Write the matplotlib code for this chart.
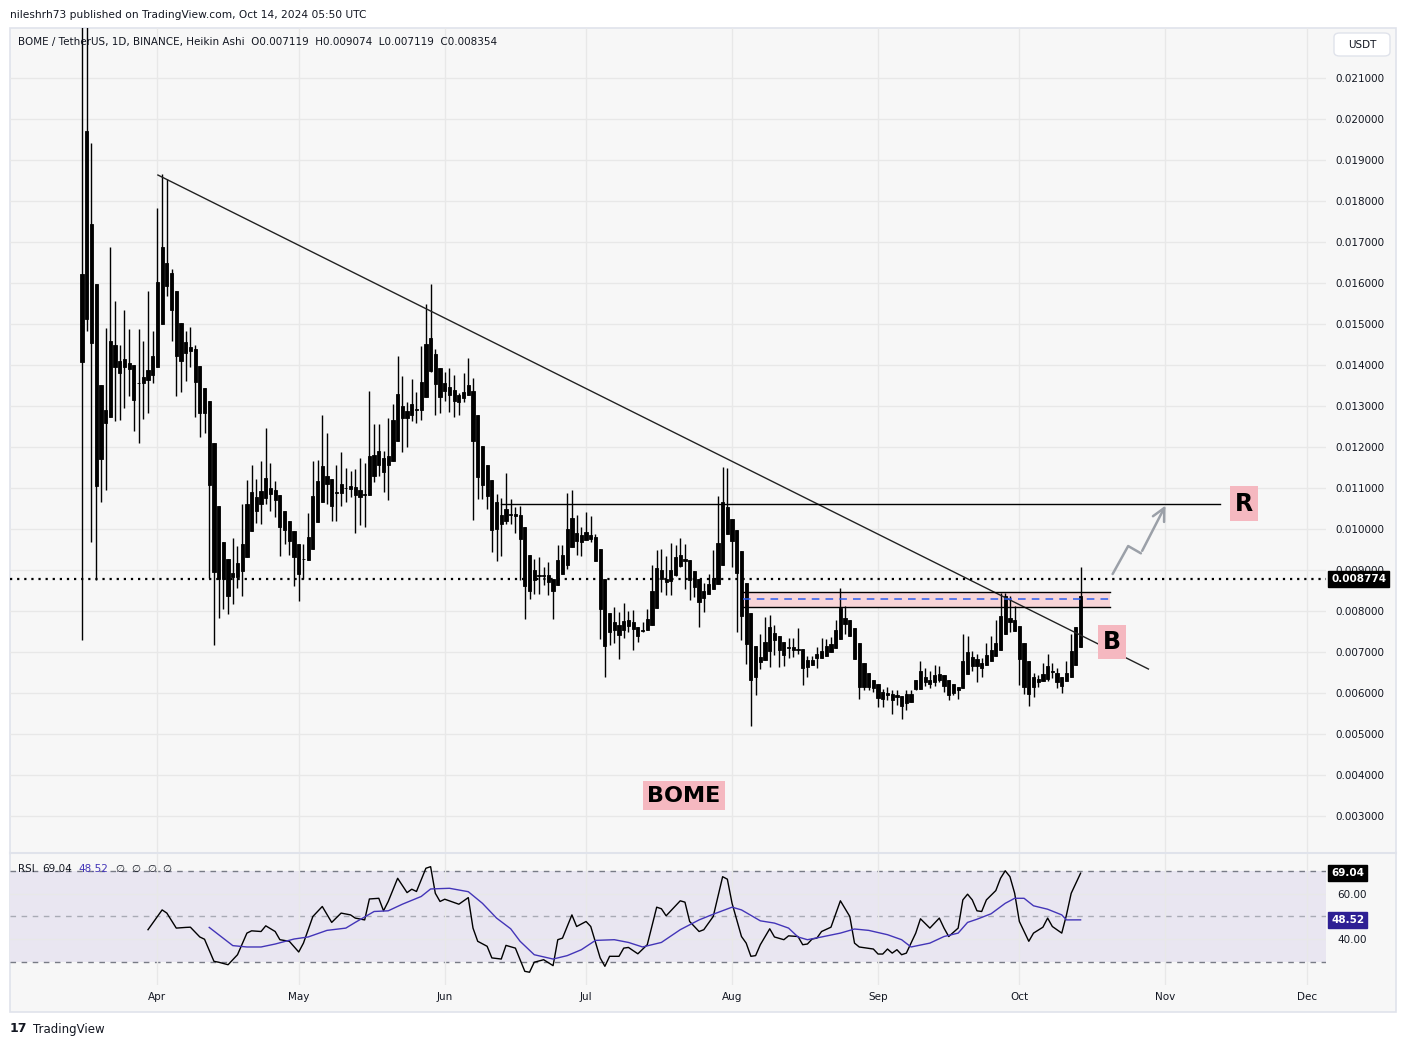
import matplotlib
matplotlib.use('Agg')
import matplotlib.pyplot as plt
import matplotlib.dates as mdates
import matplotlib.transforms as mtransforms
from matplotlib.patches import Rectangle, FancyBboxPatch
from matplotlib.lines import Line2D
import numpy as np
import pandas as pd

plt.rcParams['font.family'] = ['DejaVu Sans']

# ---- data: daily Heikin Ashi candles BOME/USDT starting 2024-03-16 ----
start_date = '2024-03-16'
ha_open = [0.01622, 0.01513, 0.01744, 0.01597, 0.01352, 0.01259, 0.01274, 0.01396, 0.01410, 0.01395,
           0.01405, 0.01400, 0.01357, 0.01356, 0.01364, 0.01376, 0.01396, 0.01500, 0.01593, 0.01624,
           0.01580, 0.01503, 0.01455, 0.01443, 0.01438, 0.01398, 0.01344, 0.01312, 0.01209, 0.01055,
           0.00968, 0.00928, 0.00882, 0.00883, 0.00898, 0.00931, 0.00996, 0.01043, 0.01060, 0.01075,
           0.01100, 0.01095, 0.01083, 0.01045, 0.01020, 0.00996, 0.00964, 0.00926, 0.00925, 0.00951,
           0.01016, 0.01065, 0.01110, 0.01122, 0.01089, 0.01087, 0.01099, 0.01098, 0.01102, 0.01094,
           0.01086, 0.01084, 0.01130, 0.01155, 0.01173, 0.01155, 0.01165, 0.01215, 0.01271, 0.01288,
           0.01279, 0.01291, 0.01291, 0.01323, 0.01386, 0.01427, 0.01393, 0.01356, 0.01346, 0.01339,
           0.01327, 0.01319, 0.01328, 0.01337, 0.01278, 0.01203, 0.01157, 0.01119, 0.01066, 0.01033,
           0.01020, 0.01036, 0.01036, 0.01034, 0.01005, 0.00936, 0.00875, 0.00886, 0.00888, 0.00889,
           0.00879, 0.00864, 0.00891, 0.00911, 0.00956, 0.00991, 0.00968, 0.00972, 0.00985, 0.00981,
           0.00952, 0.00879, 0.00796, 0.00773, 0.00767, 0.00753, 0.00763, 0.00773, 0.00761, 0.00752,
           0.00753, 0.00765, 0.00807, 0.00901, 0.00879, 0.00872, 0.00887, 0.00910, 0.00928, 0.00924,
           0.00897, 0.00879, 0.00850, 0.00842, 0.00853, 0.00867, 0.00913, 0.00989, 0.01024, 0.00997,
           0.00946, 0.00869, 0.00796, 0.00715, 0.00676, 0.00680, 0.00703, 0.00729, 0.00739, 0.00725,
           0.00709, 0.00711, 0.00708, 0.00707, 0.00680, 0.00668, 0.00686, 0.00686, 0.00690, 0.00701,
           0.00709, 0.00732, 0.00769, 0.00779, 0.00759, 0.00721, 0.00673, 0.00648, 0.00632, 0.00621,
           0.00602, 0.00596, 0.00598, 0.00590, 0.00592, 0.00576, 0.00598, 0.00609, 0.00609, 0.00640,
           0.00621, 0.00626, 0.00632, 0.00643, 0.00632, 0.00621, 0.00607, 0.00611, 0.00646, 0.00688,
           0.00682, 0.00661, 0.00669, 0.00679, 0.00690, 0.00704, 0.00744, 0.00782, 0.00778, 0.00763,
           0.00723, 0.00678, 0.00640, 0.00626, 0.00629, 0.00634, 0.00654, 0.00648, 0.00640, 0.00629,
           0.00640, 0.00669, 0.007119]
ha_close = [0.01408, 0.01971, 0.01453, 0.01105, 0.01170, 0.01291, 0.01458, 0.01448, 0.01380, 0.01415,
            0.01391, 0.01314, 0.01355, 0.01370, 0.01389, 0.01421, 0.01602, 0.01689, 0.01650, 0.01535,
            0.01423, 0.01411, 0.01430, 0.01433, 0.01358, 0.01284, 0.01282, 0.01107, 0.00896, 0.00878,
            0.00878, 0.00836, 0.00893, 0.00918, 0.00964, 0.01060, 0.01090, 0.01077, 0.01092, 0.01125,
            0.01085, 0.01070, 0.01004, 0.00998, 0.00970, 0.00931, 0.00890, 0.00928, 0.00980, 0.01080,
            0.01118, 0.01153, 0.01130, 0.01055, 0.01091, 0.01111, 0.01101, 0.01104, 0.01084, 0.01077,
            0.01084, 0.01177, 0.01180, 0.01191, 0.01138, 0.01177, 0.01266, 0.01329, 0.01301, 0.01271,
            0.01305, 0.01293, 0.01358, 0.01451, 0.01465, 0.01354, 0.01321, 0.01336, 0.01328, 0.01313,
            0.01311, 0.01335, 0.01351, 0.01215, 0.01126, 0.01108, 0.01081, 0.00998, 0.01000, 0.01012,
            0.01050, 0.01034, 0.01031, 0.00975, 0.00862, 0.00850, 0.00899, 0.00888, 0.00886, 0.00871,
            0.00850, 0.00924, 0.00936, 0.01000, 0.01028, 0.00970, 0.00985, 0.00993, 0.00976, 0.00921,
            0.00804, 0.00715, 0.00750, 0.00753, 0.00741, 0.00775, 0.00777, 0.00757, 0.00739, 0.00754,
            0.00781, 0.00850, 0.00905, 0.00879, 0.00871, 0.00899, 0.00932, 0.00937, 0.00921, 0.00875,
            0.00859, 0.00822, 0.00832, 0.00865, 0.00880, 0.00967, 0.01066, 0.01054, 0.00970, 0.00893,
            0.00788, 0.00720, 0.00632, 0.00640, 0.00689, 0.00725, 0.00762, 0.00747, 0.00705, 0.00693,
            0.00711, 0.00706, 0.00706, 0.00661, 0.00663, 0.00680, 0.00694, 0.00703, 0.00715, 0.00719,
            0.00753, 0.00807, 0.00783, 0.00740, 0.00682, 0.00615, 0.00615, 0.00615, 0.00611, 0.00588,
            0.00586, 0.00600, 0.00582, 0.00594, 0.00569, 0.00598, 0.00578, 0.00632, 0.00653, 0.00628,
            0.00632, 0.00643, 0.00646, 0.00618, 0.00596, 0.00600, 0.00615, 0.00678, 0.00701, 0.00665,
            0.00665, 0.00673, 0.00692, 0.00704, 0.00721, 0.00788, 0.00836, 0.00773, 0.00751, 0.00682,
            0.00615, 0.00598, 0.00615, 0.00634, 0.00646, 0.00667, 0.00652, 0.00627, 0.00618, 0.00648,
            0.00703, 0.00761, 0.008354]
ha_high = [0.02400, 0.02400, 0.01941, 0.01597, 0.01352, 0.01490, 0.01687, 0.01556, 0.01450, 0.01533,
           0.01488, 0.01400, 0.01488, 0.01458, 0.01580, 0.01483, 0.01782, 0.01866, 0.01853, 0.01634,
           0.01580, 0.01503, 0.01483, 0.01493, 0.01448, 0.01398, 0.01344, 0.01312, 0.01209, 0.01055,
           0.00968, 0.00928, 0.00978, 0.00958, 0.01060, 0.01120, 0.01157, 0.01123, 0.01167, 0.01246,
           0.01160, 0.01117, 0.01083, 0.01045, 0.01020, 0.00996, 0.00964, 0.00964, 0.01039, 0.01167,
           0.01168, 0.01278, 0.01233, 0.01122, 0.01156, 0.01189, 0.01148, 0.01142, 0.01146, 0.01172,
           0.01162, 0.01336, 0.01256, 0.01256, 0.01191, 0.01271, 0.01305, 0.01421, 0.01372, 0.01311,
           0.01366, 0.01333, 0.01447, 0.01549, 0.01598, 0.01439, 0.01393, 0.01382, 0.01393, 0.01376,
           0.01332, 0.01381, 0.01417, 0.01368, 0.01278, 0.01203, 0.01157, 0.01119, 0.01085, 0.01075,
           0.01137, 0.01072, 0.01054, 0.01057, 0.01005, 0.00936, 0.00928, 0.00932, 0.00907, 0.00920,
           0.00879, 0.00962, 0.00962, 0.01089, 0.01094, 0.01033, 0.01005, 0.01041, 0.01032, 0.00989,
           0.00952, 0.00879, 0.00796, 0.00810, 0.00798, 0.00820, 0.00799, 0.00802, 0.00761, 0.00773,
           0.00806, 0.00911, 0.00950, 0.00952, 0.00934, 0.00967, 0.00960, 0.00979, 0.00964, 0.00924,
           0.00897, 0.00879, 0.00869, 0.00891, 0.00948, 0.01080, 0.01151, 0.01149, 0.01025, 0.00997,
           0.00946, 0.00869, 0.00796, 0.00715, 0.00744, 0.00785, 0.00790, 0.00766, 0.00739, 0.00725,
           0.00734, 0.00734, 0.00759, 0.00707, 0.00690, 0.00690, 0.00711, 0.00734, 0.00732, 0.00736,
           0.00778, 0.00857, 0.00813, 0.00779, 0.00759, 0.00721, 0.00673, 0.00648, 0.00632, 0.00621,
           0.00609, 0.00615, 0.00607, 0.00607, 0.00592, 0.00607, 0.00607, 0.00632, 0.00678, 0.00661,
           0.00653, 0.00669, 0.00665, 0.00643, 0.00632, 0.00621, 0.00615, 0.00744, 0.00738, 0.00703,
           0.00694, 0.00686, 0.00721, 0.00740, 0.00778, 0.00844, 0.00843, 0.00836, 0.00811, 0.00763,
           0.00723, 0.00678, 0.00648, 0.00644, 0.00673, 0.00696, 0.00673, 0.00661, 0.00640, 0.00678,
           0.00744, 0.00761, 0.009074]
ha_low = [0.00729, 0.01483, 0.00968, 0.00876, 0.01067, 0.01095, 0.01274, 0.01264, 0.01266, 0.01296,
          0.01324, 0.01239, 0.01210, 0.01269, 0.01284, 0.01356, 0.01396, 0.01500, 0.01568, 0.01458,
          0.01324, 0.01334, 0.01362, 0.01394, 0.01272, 0.01224, 0.01234, 0.00881, 0.00717, 0.00784,
          0.00806, 0.00792, 0.00816, 0.00856, 0.00836, 0.00931, 0.00996, 0.01015, 0.01013, 0.01060,
          0.01045, 0.01030, 0.00934, 0.00964, 0.00936, 0.00862, 0.00825, 0.00878, 0.00925, 0.00951,
          0.01016, 0.01065, 0.01061, 0.01020, 0.01020, 0.01055, 0.01067, 0.01077, 0.00990, 0.01010,
          0.01006, 0.01084, 0.01114, 0.01130, 0.01091, 0.01071, 0.01165, 0.01215, 0.01189, 0.01201,
          0.01264, 0.01258, 0.01267, 0.01323, 0.01382, 0.01279, 0.01282, 0.01313, 0.01285, 0.01272,
          0.01279, 0.01309, 0.01328, 0.01023, 0.01072, 0.01073, 0.01048, 0.00945, 0.00923, 0.00935,
          0.01012, 0.01012, 0.00990, 0.00875, 0.00780, 0.00830, 0.00842, 0.00842, 0.00863, 0.00838,
          0.00781, 0.00864, 0.00891, 0.00903, 0.00956, 0.00937, 0.00934, 0.00972, 0.00968, 0.00921,
          0.00731, 0.00639, 0.00716, 0.00723, 0.00682, 0.00734, 0.00750, 0.00704, 0.00724, 0.00749,
          0.00753, 0.00765, 0.00807, 0.00846, 0.00838, 0.00838, 0.00885, 0.00907, 0.00854, 0.00826,
          0.00834, 0.00761, 0.00798, 0.00842, 0.00853, 0.00867, 0.00913, 0.00989, 0.00907, 0.00750,
          0.00730, 0.00671, 0.00520, 0.00595, 0.00658, 0.00680, 0.00664, 0.00693, 0.00664, 0.00666,
          0.00685, 0.00688, 0.00694, 0.00620, 0.00640, 0.00668, 0.00661, 0.00686, 0.00690, 0.00701,
          0.00709, 0.00732, 0.00743, 0.00738, 0.00682, 0.00586, 0.00607, 0.00607, 0.00603, 0.00565,
          0.00565, 0.00582, 0.00548, 0.00571, 0.00536, 0.00559, 0.00578, 0.00607, 0.00609, 0.00618,
          0.00611, 0.00618, 0.00626, 0.00603, 0.00582, 0.00594, 0.00586, 0.00611, 0.00646, 0.00653,
          0.00628, 0.00638, 0.00669, 0.00679, 0.00690, 0.00704, 0.00744, 0.00748, 0.00751, 0.00619,
          0.00598, 0.00569, 0.00590, 0.00615, 0.00629, 0.00629, 0.00636, 0.00611, 0.00601, 0.00629,
          0.00640, 0.00669, 0.007119]

# RSI(14) and its moving average, (day offset from start, value) at line vertices
rsi_points = [(14, 44.2), (17, 52.9), (18, 51.5), (20, 44.9), (22, 45.2), (23, 45.3), (25, 41.0), (26, 40.0),
              (28, 30.3), (29, 29.9), (31, 28.8), (32, 31.0), (33, 33.2), (35, 42.7), (36, 43.7), (38, 43.4),
              (39, 45.9), (41, 43.4), (42, 39.8), (44, 39.1), (46, 34.4), (47, 38.3), (49, 50.0), (51, 54.4),
              (53, 47.4), (55, 51.5), (57, 50.7), (58, 49.3), (60, 48.5), (61, 57.7), (63, 58.0), (64, 52.5),
              (65, 56.6), (67, 66.8), (69, 60.5), (70, 62.0), (71, 61.0), (73, 71.2), (74, 71.9), (75, 60.2),
              (76, 56.6), (77, 57.6), (80, 55.4), (82, 58.3), (83, 44.9), (84, 39.1), (86, 36.9), (87, 31.8),
              (89, 31.3), (90, 37.3), (92, 36.1), (93, 31.0), (94, 25.9), (95, 25.5), (96, 29.9), (98, 31.0),
              (100, 28.4), (101, 39.8), (102, 40.5), (104, 50.7), (105, 45.6), (107, 47.8), (108, 45.6),
              (110, 31.8), (111, 28.1), (112, 32.5), (114, 32.5), (115, 36.1), (116, 36.4), (118, 33.6),
              (120, 37.6), (122, 54.1), (123, 53.4), (124, 50.3), (127, 56.9), (128, 56.3), (129, 47.8),
              (131, 43.4), (132, 44.2), (134, 50.0), (136, 67.5), (137, 66.4), (138, 55.8), (140, 41.2),
              (141, 38.3), (142, 32.5), (143, 32.8), (144, 37.6), (146, 44.6), (147, 41.0), (149, 39.8),
              (150, 41.5), (152, 41.2), (153, 37.6), (154, 37.9), (155, 40.1), (156, 40.5), (157, 43.4),
              (159, 45.3), (161, 56.9), (163, 50.0), (164, 38.3), (165, 36.6), (167, 36.0), (168, 35.7),
              (169, 33.5), (170, 33.5), (171, 35.7), (172, 33.9), (173, 35.4), (174, 33.2), (175, 33.9),
              (177, 42.7), (178, 49.0), (180, 44.9), (182, 49.3), (183, 44.9), (184, 41.2), (186, 44.9),
              (187, 57.3), (188, 59.8), (189, 57.3), (190, 52.5), (191, 52.2), (192, 57.3), (194, 61.4),
              (195, 66.8), (196, 70.1), (197, 67.5), (198, 60.2), (199, 47.8), (201, 39.1), (202, 42.7),
              (204, 45.3), (205, 49.3), (206, 45.6), (208, 42.7), (209, 50.7), (210, 60.2), (212, 69.04)]
rsi_ma_points = [(27, 45.2), (32, 37.2), (35, 36.6), (38, 36.6), (41, 37.9), (45, 40.1), (48, 41.0), (52, 43.9),
                 (56, 44.9), (58, 47.4), (62, 52.2), (65, 52.5), (68, 55.4), (72, 58.8), (74, 62.1), (78, 62.4),
                 (82, 60.9), (85, 55.8), (88, 49.3), (91, 44.6), (93, 39.1), (96, 33.2), (100, 31.3), (103, 32.8),
                 (106, 35.4), (109, 39.5), (113, 39.8), (116, 38.6), (119, 36.6), (123, 38.6), (127, 44.2),
                 (131, 48.5), (134, 51.0), (138, 54.1), (140, 52.9), (144, 48.1), (147, 47.1), (150, 44.9),
                 (152, 41.0), (154, 39.8), (157, 41.0), (161, 42.7), (164, 44.5), (167, 43.9), (171, 42.0),
                 (174, 39.8), (176, 36.6), (180, 38.3), (183, 41.2), (186, 42.7), (188, 47.4), (190, 48.8),
                 (193, 51.2), (196, 55.8), (198, 58.0), (200, 58.0), (202, 54.7), (205, 53.2), (208, 50.7),
                 (209, 48.5), (212, 48.52)]

# drawings (day offsets from start, prices)
trend_days = [16.1, 226.4]
trend_prices = [0.018634, 0.006585]
resistance_price = 0.01062
resistance_days = [88.9, 241.5]
zone_top, zone_mid, zone_bottom = 0.008471, 0.008290, 0.008090
zone_days = [140.3, 218.2]
arrow_days = [218.8, 222.1, 224.8, 230.3]
arrow_prices = [0.008902, 0.009585, 0.009407, 0.010634]
last_price = 0.008774
rsi_last, rsi_ma_last = 69.04, 48.52
price_ticks = [0.003, 0.004, 0.005, 0.006, 0.007, 0.008, 0.009, 0.010, 0.011,
               0.012, 0.013, 0.014, 0.015, 0.016, 0.017, 0.018, 0.019, 0.020, 0.021]
month_ticks = ['2024-04-01', '2024-05-01', '2024-06-01', '2024-07-01', '2024-08-01',
               '2024-09-01', '2024-10-01', '2024-11-01', '2024-12-01']

# ---- figure ----
W, H = 1406, 1047
BG = '#f7f7f7'
GRID = '#e8e8e8'
TXT = '#131722'
PINK = '#f5b8c0'

def fx(px):
    return px / W

def fy(py):
    return 1 - py / H

fig = plt.figure(figsize=(W / 100, H / 100), dpi=100, facecolor='white')
fig.patches.append(Rectangle((fx(10), fy(1012)), fx(1396) - fx(10), fy(28) - fy(1012),
                             transform=fig.transFigure, fc=BG, ec='#e0e3eb', lw=1.2, zorder=-5))

ax = fig.add_axes([fx(10), fy(852), fx(1326) - fx(10), fy(28) - fy(852)])
ax2 = fig.add_axes([fx(10), fy(985), fx(1326) - fx(10), fy(854) - fy(985)], sharex=ax)
fig.add_artist(Line2D([fx(10), fx(1396)], [fy(853), fy(853)], transform=fig.transFigure,
                      color='#e0e3eb', lw=1.5, zorder=-4))

base = mdates.date2num(pd.Timestamp(start_date))
dates = pd.date_range(start_date, periods=len(ha_open), freq='D')
x = mdates.date2num(dates)

for a in (ax, ax2):
    a.set_facecolor('none')
    for s in a.spines.values():
        s.set_visible(False)

ax.set_xlim(base - 15.3, base + 264.1)
ax.set_ylim(0.002122, 0.02222)

# candles
o = np.array(ha_open)
c = np.array(ha_close)
lo = np.minimum(o, c)
hi = np.maximum(o, c)
ax.vlines(x, ha_low, ha_high, color='black', lw=1.0, zorder=3)
ax.bar(x, hi - lo, bottom=lo, width=0.68, color='black', edgecolor='black', linewidth=0.6, zorder=3)

# grid & ticks
xt = mdates.date2num(pd.to_datetime(month_ticks))
ax.set_xticks(xt)
ax.set_yticks(price_ticks)
ax.set_yticklabels([f'{p:.6f}' for p in price_ticks])
ax.yaxis.tick_right()
ax.tick_params(axis='y', length=0, pad=7, labelsize=7.5, labelcolor=TXT)
ax.tick_params(axis='x', length=0, labelbottom=False)
ax.grid(True, color=GRID, lw=1, zorder=0)

# trend line, resistance, zone
ax.plot(base + np.array(trend_days), trend_prices, color='#222222', lw=1.0, zorder=4)
ax.plot(base + np.array(resistance_days), [resistance_price] * 2, color='black', lw=1.0, zorder=4)
ax.add_patch(Rectangle((base + zone_days[0], zone_bottom), zone_days[1] - zone_days[0], zone_top - zone_bottom,
                       fc='#f8d5d8', ec='none', zorder=2))
ax.plot(base + np.array(zone_days), [zone_top] * 2, color='black', lw=1.0, zorder=4)
ax.plot(base + np.array(zone_days), [zone_bottom] * 2, color='black', lw=1.0, zorder=4)
ax.plot(base + np.array(zone_days), [zone_mid] * 2, color='#2b5ef2', lw=1.1, ls=(0, (5, 4)), zorder=4)

# projected path arrow
ax_x = base + np.array(arrow_days)
ax.plot(ax_x[:3], arrow_prices[:3], color='#9ba0a8', lw=1.8, zorder=4, solid_capstyle='round')
ax.annotate('', xy=(ax_x[3], arrow_prices[3]), xytext=(ax_x[2], arrow_prices[2]),
            arrowprops=dict(arrowstyle='->,head_length=0.9,head_width=0.45', color='#9ba0a8', lw=1.8),
            zorder=4)

# last price dotted line + label
ax.axhline(last_price, color='black', lw=1.6, ls=(0, (1, 2.2)), zorder=4)
ytrans = mtransforms.blended_transform_factory(ax.transAxes, ax.transData)
ax.text(1.0 + 5 / 1316, last_price, f'{last_price:.6f}', transform=ytrans, va='center', ha='left',
        fontsize=7.5, fontweight='bold', color='white', clip_on=False, zorder=10,
        bbox=dict(boxstyle='square,pad=0.3', fc='black', ec='black'))

# labels
ax.text(base + 246.7, 0.010622, 'R', ha='center', va='center', fontsize=17, fontweight='bold',
        color='black', zorder=6, bbox=dict(boxstyle='square,pad=0.22', fc=PINK, ec='none'))
ax.text(base + 218.7, 0.007244, 'B', ha='center', va='center', fontsize=17, fontweight='bold',
        color='black', zorder=6, bbox=dict(boxstyle='square,pad=0.22', fc=PINK, ec='none'))
ax.text(base + 127.8, 0.003500, 'BOME', ha='center', va='center', fontsize=16, fontweight='bold',
        color='black', zorder=6, bbox=dict(boxstyle='square,pad=0.2', fc=PINK, ec='none'))

# ---- RSI pane ----
ax2.set_ylim(19.89, 77.47)
ax2.axhspan(30, 70, color='#e9e6f1', lw=0, zorder=0)
ax2.axhline(70, color='#787b86', lw=1.0, ls=(0, (4, 4)), zorder=1)
ax2.axhline(50, color='#a9abb5', lw=1.0, ls=(0, (4, 4)), zorder=1)
ax2.axhline(30, color='#787b86', lw=1.0, ls=(0, (4, 4)), zorder=1)
rd, rv = zip(*rsi_points)
md, mv = zip(*rsi_ma_points)
ax2.plot(base + np.array(rd), rv, color='black', lw=1.0, zorder=3)
ax2.plot(base + np.array(md), mv, color='#4335b8', lw=1.0, zorder=3)
ax2.set_yticks([40, 60])
ax2.set_yticklabels(['40.00', '60.00'])
ax2.yaxis.tick_right()
ax2.tick_params(axis='y', length=0, pad=8, labelsize=7.5, labelcolor=TXT)
ax2.tick_params(axis='x', length=0, pad=5, labelsize=7.5, labelcolor=TXT)
ax2.xaxis.set_major_formatter(mdates.DateFormatter('%b'))
ax2.grid(True, color=GRID, lw=1, zorder=0)
ytrans2 = mtransforms.blended_transform_factory(ax2.transAxes, ax2.transData)
ax2.text(1.0 + 5 / 1316, rsi_last, f'{rsi_last:.2f}', transform=ytrans2, va='center', ha='left',
         fontsize=7.5, fontweight='bold', color='white', clip_on=False, zorder=10,
         bbox=dict(boxstyle='square,pad=0.3', fc='black', ec='black'))
ax2.text(1.0 + 5 / 1316, rsi_ma_last, f'{rsi_ma_last:.2f}', transform=ytrans2, va='center', ha='left',
         fontsize=7.5, fontweight='bold', color='white', clip_on=False, zorder=10,
         bbox=dict(boxstyle='square,pad=0.3', fc='#2e1f94', ec='#2e1f94'))

# ---- header / footer texts ----
fig.text(fx(10), fy(15), 'nileshrh73 published on TradingView.com, Oct 14, 2024 05:50 UTC',
         va='center', ha='left', fontsize=7.7, color=TXT)
fig.text(fx(18), fy(42), 'BOME / TetherUS, 1D, BINANCE, Heikin Ashi  O0.007119  H0.009074  L0.007119  C0.008354',
         va='center', ha='left', fontsize=7.5, color=TXT)
fig.patches.append(FancyBboxPatch((fx(1334), fy(56)), fx(1390) - fx(1334), fy(33) - fy(56),
                                  boxstyle='round,pad=0,rounding_size=0.004', transform=fig.transFigure,
                                  fc='white', ec='#e0e3eb', lw=1.0))
fig.text(fx(1362), fy(44.5), 'USDT', va='center', ha='center', fontsize=7.5, color=TXT)

fig.text(fx(18), fy(869), 'RSI', va='center', ha='left', fontsize=7.5, color=TXT)
fig.text(fx(42), fy(869), f'{rsi_last:.2f}', va='center', ha='left', fontsize=7.5, color=TXT)
fig.text(fx(78), fy(869), f'{rsi_ma_last:.2f}', va='center', ha='left', fontsize=7.5, color='#4335b8')
for px in (115, 131, 147, 162):
    fig.text(fx(px), fy(869), '\u2205', va='center', ha='left', fontsize=7.5, color=TXT)

fig.text(fx(10), fy(1029), '17', va='center', ha='left', fontsize=9, fontweight='bold', color=TXT)
fig.text(fx(33), fy(1029), 'TradingView', va='center', ha='left', fontsize=8.5, color=TXT)

fig.savefig('out.png', dpi=100, facecolor='white')
